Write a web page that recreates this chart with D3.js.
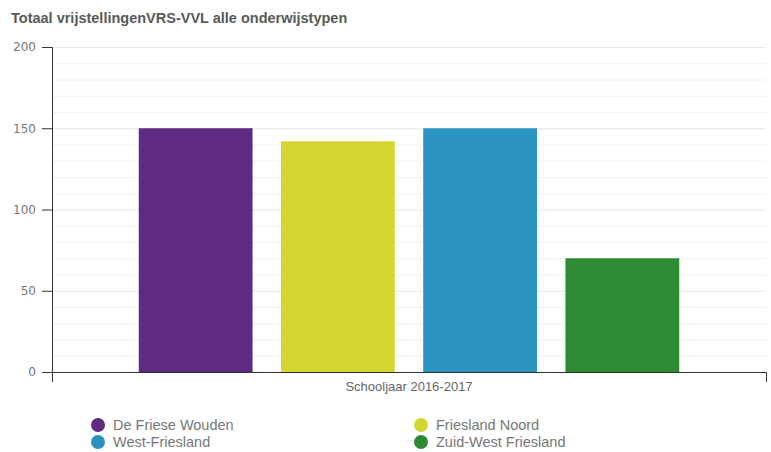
<!DOCTYPE html>
<html>
<head>
<meta charset="utf-8">
<script src="https://cdn.jsdelivr.net/npm/d3@7"></script>
<style>
  body { margin: 0; background: #fff; }
  svg { display: block; }
  .title { font-family: "Liberation Sans", Arial, sans-serif; font-weight: bold; font-size: 14.5px; fill: #595959; }
  .yax text { font-family: "DejaVu Sans", sans-serif; font-size: 12px; fill: #777; }
  .xax text { font-family: "Liberation Sans", Arial, sans-serif; font-size: 13px; fill: #666; }
  .legend text { font-family: "Liberation Sans", Arial, sans-serif; font-size: 14.5px; fill: #777; }
</style>
</head>
<body>
<svg id="chart" width="771" height="452"></svg>
<script>
var groups = ["Schooljaar 2016-2017"];
var regions = ["De Friese Wouden", "Friesland Noord", "West-Friesland", "Zuid-West Friesland"];
var values = [150, 142, 150, 70];
var colors = ["#5e2a84", "#d4d731", "#2b93bf", "#2f8a34"];
var yTicks = [0, 50, 100, 150, 200];

var svg = d3.select("#chart");
var mLeft = 52, mRight = 766, mTop = 47, mBottom = 372;

svg.append("text").attr("class", "title").attr("x", 11).attr("y", 23)
  .text("Totaal vrijstellingenVRS-VVL alle onderwijstypen");

var y = d3.scaleLinear().domain([0, 200]).range([mBottom, mTop]);
var x0 = d3.scaleBand().domain(groups).range([mLeft, mRight]).padding(0);
var x1 = d3.scaleBand().domain(regions).range([x0(groups[0]), x0(groups[0]) + x0.bandwidth()])
  .paddingInner(0.2).paddingOuter(0.61);

// grid
svg.append("g").selectAll("line").data(d3.range(10, 201, 10)).join("line")
  .attr("x1", mLeft).attr("x2", mRight)
  .attr("y1", d => y(d) + 0.5).attr("y2", d => y(d) + 0.5)
  .attr("stroke", d => d % 50 == 0 ? "#e6e6e6" : "#f0f0f0");

// bars
svg.append("g").selectAll("rect").data(regions).join("rect")
  .attr("x", d => x1(d))
  .attr("width", x1.bandwidth())
  .attr("y", (d, i) => y(values[i]))
  .attr("height", (d, i) => mBottom - y(values[i]))
  .attr("fill", (d, i) => colors[i]);

// y axis
var yAxis = svg.append("g").attr("class", "yax").attr("transform", "translate(" + mLeft + ",0)")
  .call(d3.axisLeft(y).tickValues(yTicks).tickSize(10).tickSizeOuter(10).tickPadding(6));
yAxis.selectAll("path, line").attr("stroke", "#333");

// x axis
var xAxis = svg.append("g").attr("class", "xax").attr("transform", "translate(0," + mBottom + ")")
  .call(d3.axisBottom(x0).tickSize(0).tickSizeOuter(10).tickPadding(10));
xAxis.selectAll("path").attr("stroke", "#333");

// legend
var legCols = [98, 421];
var legend = svg.append("g").attr("class", "legend");
regions.forEach(function (r, i) {
  var cx = legCols[i % 2], cy = 425 + Math.floor(i / 2) * 17;
  legend.append("circle").attr("cx", cx).attr("cy", cy).attr("r", 7).attr("fill", colors[i]);
  legend.append("text").attr("x", cx + 15).attr("y", cy + 5).text(r);
});
</script>
</body>
</html>
